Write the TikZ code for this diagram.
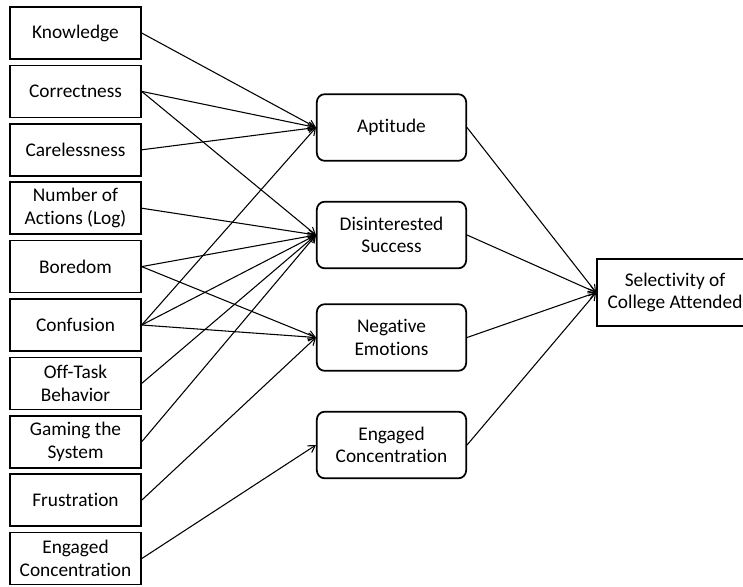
\documentclass[tikz,border=0pt]{standalone}
\usepackage{fontspec}
\setmainfont{Carlito}[Ligatures=NoCommon]
\usetikzlibrary{arrows.meta}

\begin{document}
\begin{tikzpicture}[
    x=0.75pt, y=-0.75pt,
    >={Straight Barb[length=5pt,width=6pt]},
    font=\fontsize{14.5}{17}\selectfont,
    factor/.style={draw, line width=1.3pt, minimum width=98pt, minimum height=39pt, inner sep=0pt, align=center},
    latent/.style={draw, line width=1.3pt, rounded corners=6pt, minimum width=112pt, minimum height=50pt, inner sep=0pt, align=center},
    outcome/.style={draw, line width=1.3pt, minimum width=117pt, minimum height=50pt, inner sep=0pt, align=center},
    link/.style={->, line width=0.8pt}
]

    \clip (0,0) rectangle (743,586);

    % observed measures
    \foreach \name/\txt [count=\i from 0] in {know/Knowledge, corr/Correctness, care/Carelessness,
        nact/{Number of\\Actions (Log)}, bore/Boredom, conf/Confusion, offt/{Off-Task\\Behavior},
        game/{Gaming the\\System}, frus/Frustration, engl/{Engaged\\Concentration}}
        \node[factor] (\name) at (75.5, 33+58.4*\i) {\txt};

    % factors
    \node[latent] (apt) at (391.5, 127.5) {Aptitude};
    \node[latent] (dis) at (391.5, 235) {Disinterested\\Success};
    \node[latent] (neg) at (391.5, 337.5) {Negative\\Emotions};
    \node[latent] (eng) at (391.5, 445) {Engaged\\Concentration};

    \node[outcome] (sel) at (675, 292.5) {Selectivity of\\College Attended};

    \foreach \a/\b in {know/apt, corr/apt, corr/dis, care/apt, nact/dis, bore/dis, bore/neg,
        conf/apt, conf/dis, conf/neg, offt/dis, game/dis, frus/neg, engl/eng}
        \draw[link] (\a.east) -- (\b.west);

    \foreach \a in {apt, dis, neg, eng}
        \draw[link] (\a.east) -- (sel.west);

\end{tikzpicture}
\end{document}
